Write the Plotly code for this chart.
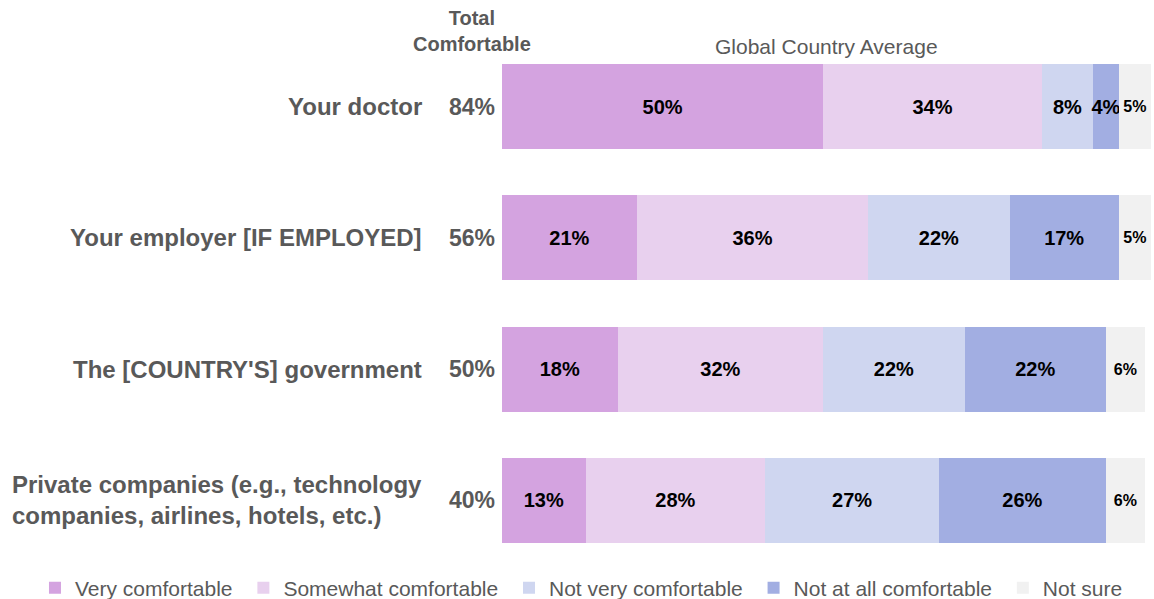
import plotly.graph_objects as go

categories = ["Your doctor", "Your employer [IF EMPLOYED]", "The [COUNTRY'S] government",
              "Private companies (e.g., technology companies, airlines, hotels, etc.)"]
category_labels = ["Your doctor", "Your employer [IF EMPLOYED]", "The [COUNTRY'S] government",
                   "Private companies (e.g., technology<br>companies, airlines, hotels, etc.)"]
total_comfortable = [84, 56, 50, 40]

series_names = ["Very comfortable", "Somewhat comfortable", "Not very comfortable",
                "Not at all comfortable", "Not sure"]
very_comfortable = [50, 21, 18, 13]
somewhat_comfortable = [34, 36, 32, 28]
not_very_comfortable = [8, 22, 22, 27]
not_at_all_comfortable = [4, 17, 22, 26]
not_sure = [5, 5, 6, 6]
series_values = [very_comfortable, somewhat_comfortable, not_very_comfortable,
                 not_at_all_comfortable, not_sure]
series_colors = ["#D4A3E0", "#E8D0EE", "#CFD6F0", "#A2AEE2", "#F1F1F1"]
label_sizes = [20, 20, 20, 20, 16]

FONT = "Liberation Sans, Arial, sans-serif"
GRAY = "#595959"
PAD = "\u00a0"  # extra spacing after legend entries

fig = go.Figure()
for i, (name, vals, col, ls) in enumerate(zip(series_names, series_values, series_colors, label_sizes)):
    fig.add_trace(go.Bar(
        y=categories, x=vals, name=name + (PAD if i < len(series_names) - 1 else ""),
        orientation="h",
        marker=dict(color=col, line=dict(width=0)),
        text=[f"{v}%" for v in vals], textposition="inside",
        insidetextanchor="middle", textangle=0, constraintext="none",
        textfont=dict(family=FONT, size=ls, color="#000000", weight="bold"),
        hoverinfo="skip",
    ))

annotations = []
for cat, lab, tot in zip(categories, category_labels, total_comfortable):
    annotations.append(dict(
        xref="paper", yref="y", x=0, y=cat, xanchor="right", yanchor="middle",
        xshift=-78, text=lab, align="left", showarrow=False,
        font=dict(family=FONT, size=24, color=GRAY, weight="bold")))
    annotations.append(dict(
        xref="paper", yref="y", x=0, y=cat, xanchor="right", yanchor="middle",
        xshift=-5, text=f"{tot}%", showarrow=False,
        font=dict(family=FONT, size=23, color=GRAY, weight="bold")))

annotations.append(dict(
    xref="paper", yref="paper", x=-0.046, y=1, xanchor="center", yanchor="middle",
    yshift=10, text="Total<br>Comfortable", showarrow=False,
    font=dict(family=FONT, size=20, color=GRAY, weight="bold")))
annotations.append(dict(
    xref="paper", yref="paper", x=0.5, y=1, xanchor="center", yanchor="middle",
    yshift=-5, text="Global Country Average", showarrow=False,
    font=dict(family=FONT, size=21, color=GRAY)))

fig.update_layout(
    width=1154, height=599,
    margin=dict(l=502, r=3, t=41, b=33, autoexpand=False),
    barmode="stack", bargap=0.353,
    plot_bgcolor="white", paper_bgcolor="white",
    font=dict(family=FONT, color=GRAY),
    xaxis=dict(range=[0, 101], visible=False, fixedrange=True),
    yaxis=dict(categoryorder="array", categoryarray=categories, autorange="reversed",
               showticklabels=False, showgrid=False, zeroline=False, showline=False,
               ticks="", fixedrange=True),
    legend=dict(orientation="h", xref="paper", yref="paper",
                x=-0.7196, xanchor="left", y=-0.042, yanchor="middle",
                font=dict(family=FONT, size=21, color=GRAY),
                traceorder="normal", bgcolor="rgba(0,0,0,0)"),
    annotations=annotations,
    showlegend=True,
)

fig.write_html("out.html", config={"displayModeBar": False},
               post_script="document.body.style.margin='0';document.body.style.overflow='hidden';")
